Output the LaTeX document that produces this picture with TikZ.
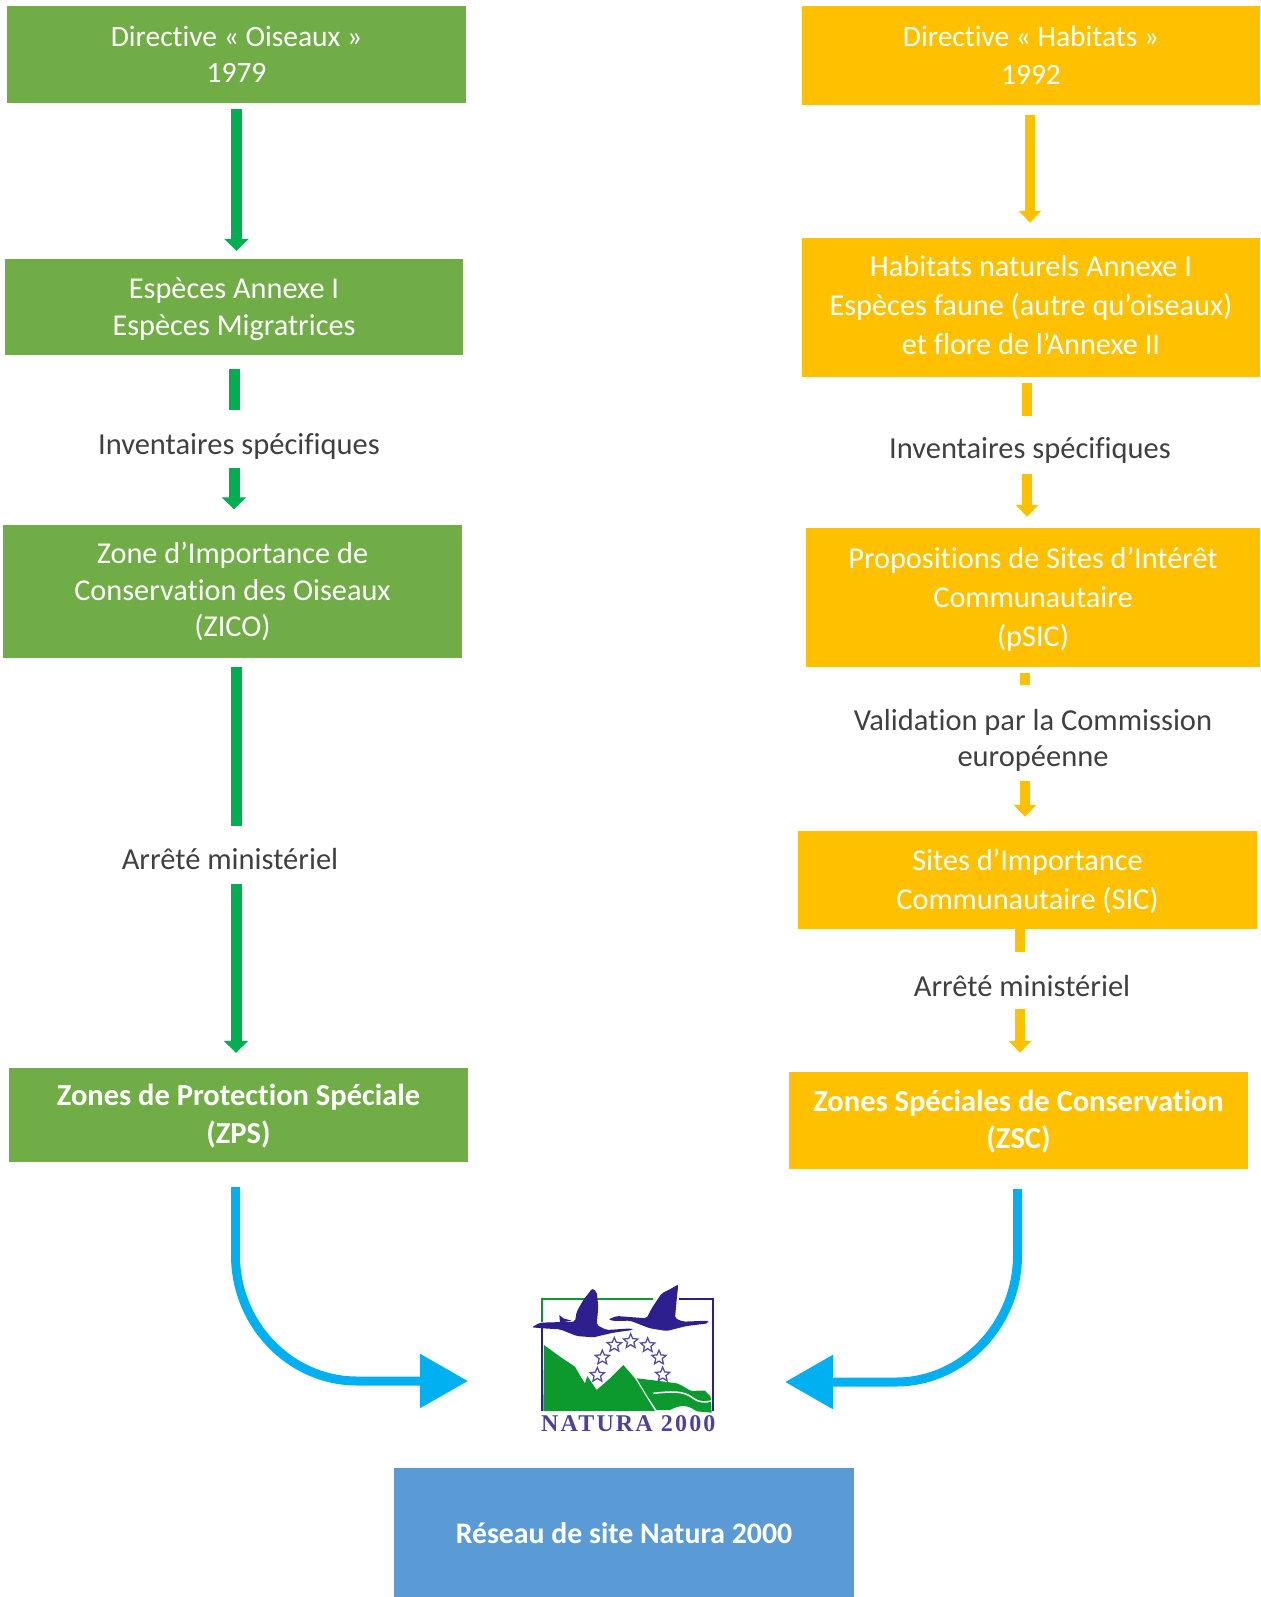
\documentclass[tikz,border=0pt]{standalone}
\usepackage{fontspec}
\setmainfont[RawFeature=-liga]{Carlito}
\newfontfamily\logofont[LetterSpace=9]{Liberation Serif}
\usetikzlibrary{arrows.meta,shapes.geometric}
\definecolor{boxgreen}{HTML}{70AD47}
\definecolor{boxyellow}{HTML}{FFC000}
\definecolor{boxblue}{HTML}{5B9BD5}
\definecolor{arrgreen}{HTML}{00B050}
\definecolor{arrblue}{HTML}{00B0F0}
\definecolor{labelgrey}{HTML}{404040}
\definecolor{logopurple}{HTML}{2E1F8F}
\definecolor{logogreen}{HTML}{0C9A2E}
\tikzset{
  boxbase/.style={rectangle,inner sep=0pt,text=white,align=center,font=\fontsize{30.3}{36.7}\selectfont},
  gbox/.style={boxbase,fill=boxgreen,minimum width=459pt},
  ybox/.style={boxbase,fill=boxyellow,minimum width=458pt,font=\fontsize{30.3}{38.8}\selectfont},
  ytext/.style={boxbase,font=\fontsize{30.3}{38.8}\selectfont},
  boldtext/.style={boxbase,font=\fontsize{30.5}{37.7}\selectfont\bfseries},
  lab/.style={rectangle,inner sep=0pt,text=labelgrey,align=center,font=\fontsize{30.5}{36.7}\selectfont,minimum height=40pt},
  gstub/.style={draw=arrgreen,line width=11pt},
  garr/.style={gstub,-{Triangle[length=12pt,width=24pt]}},
  ystub/.style={draw=boxyellow,line width=10.5pt},
  yarr/.style={ystub,-{Triangle[length=12pt,width=22pt]}},
  barr/.style={draw=arrblue,line width=9pt,-{Triangle[length=48pt,width=52pt]}},
  logostar/.style={star,star points=5,star point ratio=2.2,draw=logopurple!80,line width=1.3pt,inner sep=0pt,minimum size=15pt},
}
\begin{document}
\begin{tikzpicture}[x=1pt,y=-1pt]
\useasboundingbox (0,0) rectangle (1260,1597);
% green column
\node[gbox,minimum height=97pt,font=\fontsize{29.5}{36.7}\selectfont] (g1) at (236.5,54.5) {Directive « Oiseaux »\\1979};
\node[gbox,minimum width=458pt,minimum height=96pt,label={[boxbase,yshift=-2pt]center:{Espèces Annexe I\\Espèces Migratrices}}] (g2) at (234,307) {};
\node[gbox,minimum height=133pt] (g3) at (232.5,591.5) {Zone d’Importance de\\Conservation des Oiseaux\\(ZICO)};
\node[gbox,minimum height=94pt,label={[boldtext,yshift=-1pt]center:{Zones de Protection Spéciale\\(ZPS)}}] (g4) at (238.5,1115) {};
\node[lab] (l1) at (239,446) {Inventaires spécifiques};
\node[lab] (l2) at (230,859) {Arrêté ministériel};
% yellow column
\node[ybox,minimum height=99pt,font=\fontsize{29.5}{38}\selectfont] (y1) at (1031,55.5) {Directive « Habitats »\\1992};
\node[ybox,minimum height=139pt,label={[ytext,yshift=2.5pt]center:{Habitats naturels Annexe I\\Espèces faune (autre qu’oiseaux)\\et flore de l’Annexe II}}] (y2) at (1031,307.5) {};
\node[ybox,minimum width=454pt,minimum height=139pt,label={[ytext,yshift=-2pt]center:{Propositions de Sites d’Intérêt\\Communautaire\\(pSIC)}}] (y3) at (1033,597.5) {};
\node[ybox,minimum width=459pt,minimum height=98pt,label={[ytext,yshift=-1.5pt]center:{Sites d’Importance\\Communautaire (SIC)}}] (y4) at (1027.5,880) {};
\node[ybox,minimum width=459pt,minimum height=97pt,label={[boldtext,yshift=-1pt]center:{Zones Spéciales de Conservation\\(ZSC)}}] (y5) at (1018.5,1120.5) {};
\node[lab] (l3) at (1030,450) {Inventaires spécifiques};
\node[lab,minimum height=80pt] (l4) at (1033,740.5) {Validation par la Commission\\européenne};
\node[lab] (l5) at (1022,986) {Arrêté ministériel};
% blue box
\node[boxbase,fill=boxblue,minimum width=460pt,minimum height=129pt,label={[boxbase,yshift=-1pt,font=\fontsize{29.8}{36}\selectfont\bfseries]center:{Réseau de site Natura 2000}}] (net) at (624,1532.5) {};
% green connectors
\draw[garr,shorten <=6pt,shorten >=8pt] (g1.south) -- (g1.south |- g2.north);
\draw[gstub,shorten <=13.5pt,shorten >=16pt] (g2.south) -- (g2.south |- l1.north);
\draw[garr,shorten <=1.5pt,shorten >=15.5pt] (g2.south |- l1.south) -- (g2.south |- g3.north);
\draw[gstub,shorten <=9pt,shorten >=13pt] ([xshift=3.5pt]g3.south) -- ([xshift=3.5pt]g3.south |- l2.north);
\draw[garr,shorten <=5pt,shorten >=15pt] ([xshift=3.5pt]g3.south |- l2.south) -- ([xshift=3.5pt]g3.south |- g4.north);
% yellow connectors
\draw[yarr,shorten <=10pt,shorten >=15pt] ([xshift=-1pt]y1.south) -- ([xshift=-1pt]y1.south |- y2.north);
\draw[ystub,shorten <=6pt,shorten >=14pt] ([xshift=-4pt]y2.south) -- ([xshift=-4pt]y2.south |- l3.north);
\draw[yarr,shorten <=4pt,shorten >=11pt] ([xshift=-4pt]y2.south |- l3.south) -- ([xshift=-4pt]y2.south |- y3.north);
\draw[ystub,shorten <=6pt,shorten >=15.5pt] ([xshift=-8pt]y3.south) -- ([xshift=-8pt]y3.south |- l4.north);
\draw[yarr,shorten <=0.5pt,shorten >=14pt] ([xshift=-8pt]y3.south |- l4.south) -- ([xshift=-8pt]y3.south |- y4.north);
\draw[ystub,shorten >=14pt] ([xshift=-7.5pt]y4.south) -- ([xshift=-7.5pt]y4.south |- l5.north);
\draw[yarr,shorten <=3pt,shorten >=19pt] ([xshift=-7.5pt]y4.south |- l5.south) -- ([xshift=-7.5pt]y4.south |- y5.north);
% blue connectors
\coordinate (logoL) at (468,1381);
\coordinate (logoR) at (785,1382);
\draw[barr,shorten <=25pt] ([xshift=-3pt]g4.south) -- ++(0,93) .. controls +(0,69) and +(-67,0) .. (357,1381) -- (logoL);
\draw[barr,shorten <=20pt] ([xshift=-1pt]y5.south) -- ++(0,86) .. controls +(0,69) and +(67,0) .. (896,1382) -- (logoR);
% logo
\begin{scope}[shift={(480,1250)},x=0.3333pt,y=-0.3333pt]
  \draw[logogreen,line width=2pt] (187,215) -- (187,147) -- (520,147);
  \draw[logopurple,line width=2pt] (187,235) -- (187,483);
  \draw[logopurple,line width=2pt] (597,147) -- (698,147) -- (698,483);
  \fill[logogreen] (192,285) -- (240,320) -- (285,350) -- (305,385) -- (315,400) -- (322,378) -- (350,420) -- (390,385) -- (430,345) -- (465,385) -- (525,483) -- (190,483) -- cycle;
  \fill[logogreen] (470,385) -- (530,392) -- (590,400) .. controls (620,410) and (630,430) .. (650,422) -- (675,422) -- (692,440) -- (695,488) -- (650,484) .. controls (620,462) and (600,465) .. (570,480) -- (530,480) -- (500,435) -- cycle;
  \draw[white,line width=1.5pt] (520,430) .. controls (570,425) and (610,420) .. (640,445) .. controls (655,458) and (680,458) .. (696,452);
  \fill[logopurple,rounded corners=2pt] (155,232) -- (180,218) -- (285,215) -- (290,185) -- (310,150) -- (337,115) -- (350,125) -- (355,170) -- (350,225) -- (380,240) -- (455,235) -- (458,240) -- (400,248) -- (340,262) -- (290,258) -- (240,238) -- (190,235) -- cycle;
  \fill[logopurple] (238,195) -- (250,205) -- (275,212) -- (240,218) -- cycle;
  \fill[logopurple,rounded corners=2pt] (385,208) -- (410,198) -- (500,205) -- (515,175) -- (545,130) -- (575,115) -- (595,103) -- (590,150) -- (585,205) -- (610,215) -- (685,212) -- (685,220) -- (620,228) -- (560,243) -- (510,235) -- (450,212) -- (400,213) -- cycle;
  \node[logostar] (s1) at (352,375) {};
  \node[logostar] (s2) at (367,323) {};
  \node[logostar] (s3) at (403,285) {};
  \node[logostar] (s4) at (452,274) {};
  \node[logostar] (s5) at (503,286) {};
  \node[logostar] (s6) at (537,323) {};
  \node[logostar] (s7) at (548,374) {};
  \node[inner sep=0pt,text=logopurple!85,font=\logofont\bfseries\fontsize{24}{24}\selectfont] (lt) at (445,520) {NATURA 2000};
\end{scope}
\end{tikzpicture}
\end{document}
